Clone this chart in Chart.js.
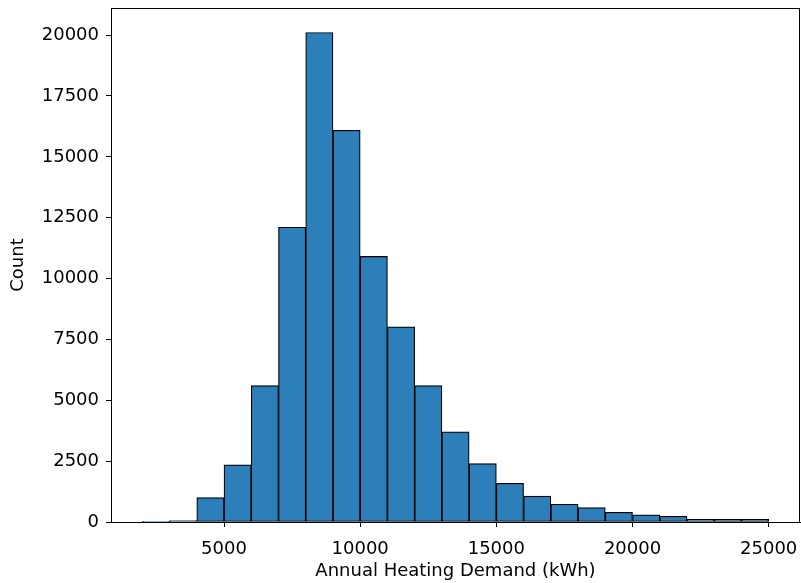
<!DOCTYPE html>
<html>
<head>
<meta charset="utf-8">
<script src="https://cdn.jsdelivr.net/npm/chart.js@4"></script>
<style>
html,body{margin:0;padding:0;background:#fff;}
#wrap{width:801px;height:583px;}
</style>
</head>
<body>
<div id="wrap"><canvas id="c" width="801" height="583"></canvas></div>
<script>
// Bin left edges (kWh), bin width 1000
const binStarts = [2000,3000,4000,5000,6000,7000,8000,9000,10000,11000,12000,13000,14000,15000,16000,17000,18000,19000,20000,21000,22000,23000,24000];
const binWidth = 1000;
const counts = [15,60,1000,2350,5600,12110,20110,16090,10910,8020,5600,3700,2400,1590,1060,730,590,400,290,235,110,105,105];
const xTicks = [5000,10000,15000,20000,25000];
const yTicks = [0,2500,5000,7500,10000,12500,15000,17500,20000];

const data = binStarts.map((s,i)=>({x: s + binWidth/2, y: counts[i]}));

const frame = {
  id:'frame',
  afterDatasetsDraw(chart){
    const {ctx, chartArea:a} = chart;
    ctx.save();
    ctx.strokeStyle = '#000';
    ctx.lineWidth = 1;
    ctx.strokeRect(Math.round(a.left)+0.5, Math.round(a.top)+0.5, Math.round(a.right-a.left)-1, Math.round(a.bottom-a.top));
    ctx.restore();
  }
};

const font = {family:'DejaVu Sans', size:18};

new Chart(document.getElementById('c'), {
  type:'bar',
  data:{datasets:[{
    data,
    backgroundColor:'#2c7fb8',
    borderColor:'#000',
    borderWidth:1.2,
    borderSkipped:false,
    barPercentage:1,
    categoryPercentage:1
  }]},
  options:{
    responsive:false,
    animation:false,
    layout:{padding:{left:0,right:1,top:8,bottom:0}},
    plugins:{legend:{display:false},tooltip:{enabled:false}},
    scales:{
      x:{
        type:'linear',
        offset:false,
        min:850, max:26150,
        afterBuildTicks(s){ s.ticks = xTicks.map(v=>({value:v})); },
        afterFit(s){ s.height = 61; s.paddingLeft = 0; s.paddingRight = 0; },
        grid:{display:true, offset:false, drawOnChartArea:false, drawTicks:true, tickLength:5, color:'#000', tickColor:'#000'},
        border:{display:true,color:'#000',width:1},
        ticks:{font, color:'#000', padding:12, maxRotation:0, autoSkip:false, callback:v=>String(v)},
        title:{display:true, text:'Annual Heating Demand (kWh)', font, color:'#000', padding:{top:2,bottom:1}}
      },
      y:{
        min:0, max:21115,
        afterBuildTicks(s){ s.ticks = yTicks.map(v=>({value:v})); },
        afterFit(s){ s.width = 111; s.paddingTop = 0; s.paddingBottom = 0; },
        grid:{display:true, drawOnChartArea:false, drawTicks:true, tickLength:5, color:'#000', tickColor:'#000'},
        border:{display:true,color:'#000',width:1},
        ticks:{font, color:'#000', padding:7, autoSkip:false, callback:v=>String(v)},
        title:{display:true, text:'Count', font, color:'#000', padding:{top:8,bottom:0}}
      }
    }
  },
  plugins:[frame]
});
</script>
</body>
</html>
